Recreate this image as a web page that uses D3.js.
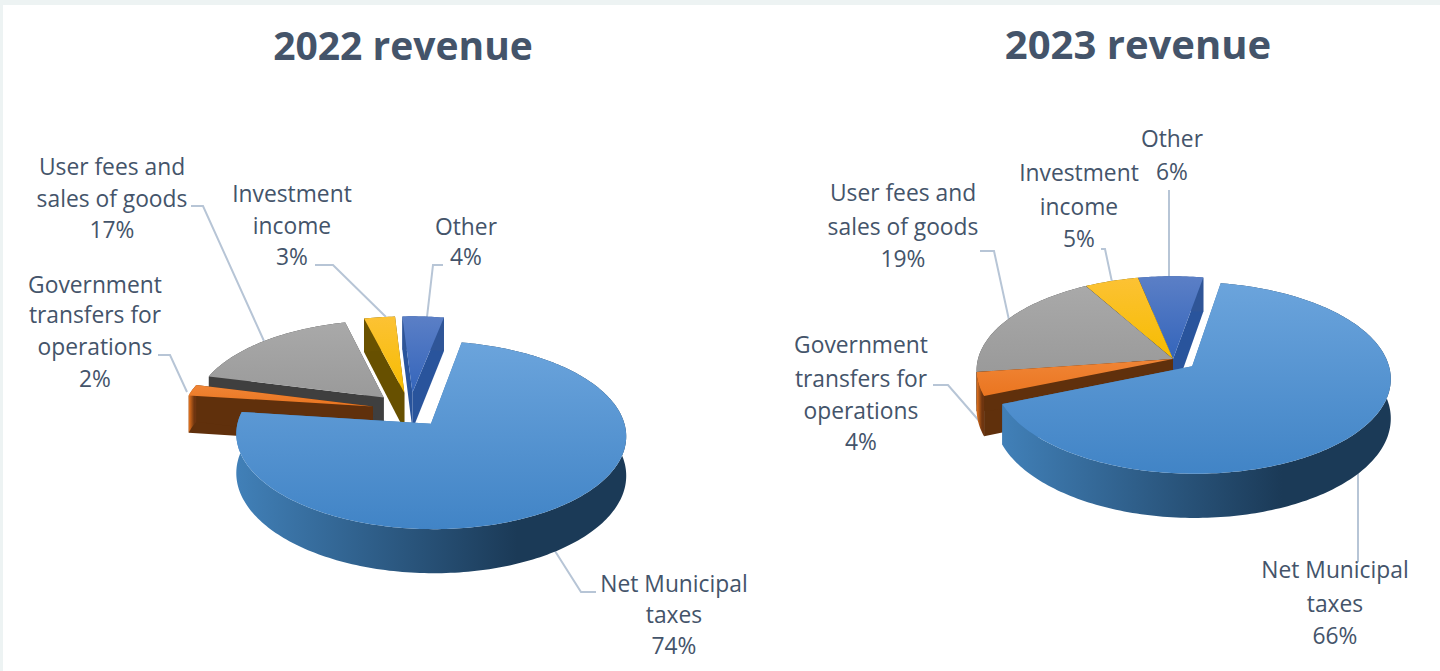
<!DOCTYPE html>
<html><head><meta charset="utf-8">
<script src="https://cdn.jsdelivr.net/npm/d3@7"></script>
<style>html,body{margin:0;padding:0;background:#fff;overflow:hidden}svg{display:block}
text{font-family:"Open Sans",sans-serif;fill:#44546a}</style></head><body>
<svg id="c" width="1440" height="671"></svg>
<script>
// ---- data (clockwise from the pie's start angle) ----
const categories = ["Net Municipal taxes","Government transfers for operations","User fees and sales of goods","Investment income","Other"];
const values2022 = [74,2,17,3,4];
const values2023 = [66,4,19,5,6];
const titles = ["2022 revenue","2023 revenue"];

// ---- styles per category ----
const topLight = ["#6ba4dc","#f08536","#a9a9a9","#fcc234","#5b7fc6"];
const topDark  = ["#4184c6","#ea7520","#9a9a9a","#f6bc00","#3465bb"];
const cutFill  = ["#3a76b0","#60300c","#3f3f3f","#675000","#29549c"];
const wallStops= [["#4180b8","#1b3a57"],["#e8751f","#6e3510"],["#3f3f3f","#3f3f3f"],["#6a5200","#6a5200"],["#2f5597","#2f5597"]];

// ---- layout ----
const charts = [
 {values:values2022,title:titles[0],tx:403,ty:60,ts:39,cx:410,cy:410,R:190,t:.47,k:.12,depth:38,start:11,explode:[.185,.2,.2,.2,.2],
  labels:[
   {x:466,ys:[235,265],lines:["Other","4%"],leader:[[443,265],[433,265],[427,317]]},
   {x:292,ys:[202,234,265],lines:["Investment","income","3%"],leader:[[315,265],[333,265],[386,317]]},
   {x:112,ys:[175,207,238],lines:["User fees and","sales of goods","17%"],leader:[[191,206],[203,206],[264,341]]},
   {x:95,ys:[293,323,355,387],lines:["Government","transfers for","operations","2%"],leader:[[158,355],[170,355],[187,392]]},
   {x:674,ys:[592,623,654],lines:["Net Municipal","taxes","74%"],leader:[[596,592],[581,592],[548,540]]}
  ]},
 {values:values2023,title:titles[1],tx:1138,ty:59,ts:40,cx:1173,cy:359,R:195,t:.475,k:.12,depth:38.5,start:10,explode:[.125,0,0,0,0],
  labels:[
   {x:1172,ys:[147,180],lines:["Other","6%"],leader:[[1169,190],[1169,277]]},
   {x:1079,ys:[181,215,247],lines:["Investment","income","5%"],leader:[[1101,249],[1105,249],[1112,282]]},
   {x:903,ys:[201,235,267],lines:["User fees and","sales of goods","19%"],leader:[[980,251],[994,251],[1009,320]]},
   {x:861,ys:[353,387,419,450],lines:["Government","transfers for","operations","4%"],leader:[[933,385],[948,385],[981,423]]},
   {x:1335,ys:[578,612,644],lines:["Net Municipal","taxes","66%"],leader:[[1358,470],[1358,562]]}
  ]}
];

const svg = d3.select("#c");
const defs = svg.append("defs");
svg.append("rect").attr("width",1440).attr("height",671).attr("fill","#fff");
svg.append("rect").attr("width",1440).attr("height",5).attr("fill","#edf3f3");
svg.append("rect").attr("width",3).attr("height",671).attr("fill","#edf3f3");

const rad = d3.scaleLinear().domain([0,360]).range([0,2*Math.PI]);
const line = d3.line();

charts.forEach((ch,ci)=>{
  const pieGen = d3.pie().sort(null)
     .startAngle(rad(ch.start)).endAngle(rad(ch.start)+2*Math.PI);
  const arcs = pieGen(ch.values);

  const project = (U,V,drop)=>{
    const w = 1 - ch.k*V;
    return [ch.cx + ch.R*U/w, ch.cy + ch.R*ch.t*V/w + (drop?ch.depth/w:0)];
  };
  const g = svg.append("g");

  ch.labels.forEach(l=>{
    g.append("path").attr("d",line(l.leader)).attr("fill","none")
     .attr("stroke","#b7c5d6").attr("stroke-width",2);
  });

  // painter's order: last category first, the big slice on top
  d3.range(arcs.length-1,-1,-1).forEach(i=>{
    const a=arcs[i];
    const mid=(a.startAngle+a.endAngle)/2, e=ch.explode[i];
    const ax=e*Math.sin(mid), ay=-e*Math.cos(mid);
    const n=Math.max(4,Math.ceil((a.endAngle-a.startAngle)/0.02));
    const angles=d3.range(n+1).map(j=>a.startAngle+(a.endAngle-a.startAngle)*j/n);
    const rim=(th,drop)=>project(ax+Math.sin(th),ay-Math.cos(th),drop);
    const apex=drop=>project(ax,ay,drop);

    const rimPts=angles.map(th=>rim(th,false));
    const ys=d3.extent(rimPts.concat([apex(false)]),p=>p[1]);
    const xs=d3.extent(rimPts,p=>p[0]);
    const tid=`t${ci}${i}`, wid=`w${ci}${i}`;
    const tg=defs.append("linearGradient").attr("id",tid).attr("gradientUnits","userSpaceOnUse")
      .attr("x1",0).attr("x2",0).attr("y1",ys[0]).attr("y2",ys[1]);
    tg.append("stop").attr("offset",0).attr("stop-color",topLight[i]);
    tg.append("stop").attr("offset",1).attr("stop-color",topDark[i]);
    const wg=defs.append("linearGradient").attr("id",wid).attr("gradientUnits","userSpaceOnUse")
      .attr("x1",xs[0]).attr("x2",xs[0]+(xs[1]-xs[0])*.72).attr("y1",0).attr("y2",0);
    wg.append("stop").attr("offset",0).attr("stop-color",wallStops[i][0]);
    wg.append("stop").attr("offset",1).attr("stop-color",wallStops[i][1]);

    [a.startAngle,a.endAngle].forEach(th=>{
      g.append("path").attr("fill",cutFill[i])
       .attr("d",line([apex(false),rim(th,false),rim(th,true),apex(true)])+"Z");
    });
    g.append("path").attr("fill",`url(#${wid})`)
     .attr("d",line(angles.map(th=>rim(th,false)).concat(angles.slice().reverse().map(th=>rim(th,true))))+"Z");
    g.append("path").attr("fill",`url(#${tid})`)
     .attr("d",line([apex(false)].concat(rimPts))+"Z");
  });

  svg.append("text").attr("x",ch.tx).attr("y",ch.ty).attr("text-anchor","middle")
     .attr("font-size",ch.ts).attr("font-weight",700).text(ch.title);
  ch.labels.forEach(l=>{
    l.lines.forEach((s,j)=>{
      svg.append("text").attr("x",l.x).attr("y",l.ys[j]).attr("text-anchor","middle")
         .attr("font-size",22.8).text(s);
    });
  });
});
</script></body></html>
